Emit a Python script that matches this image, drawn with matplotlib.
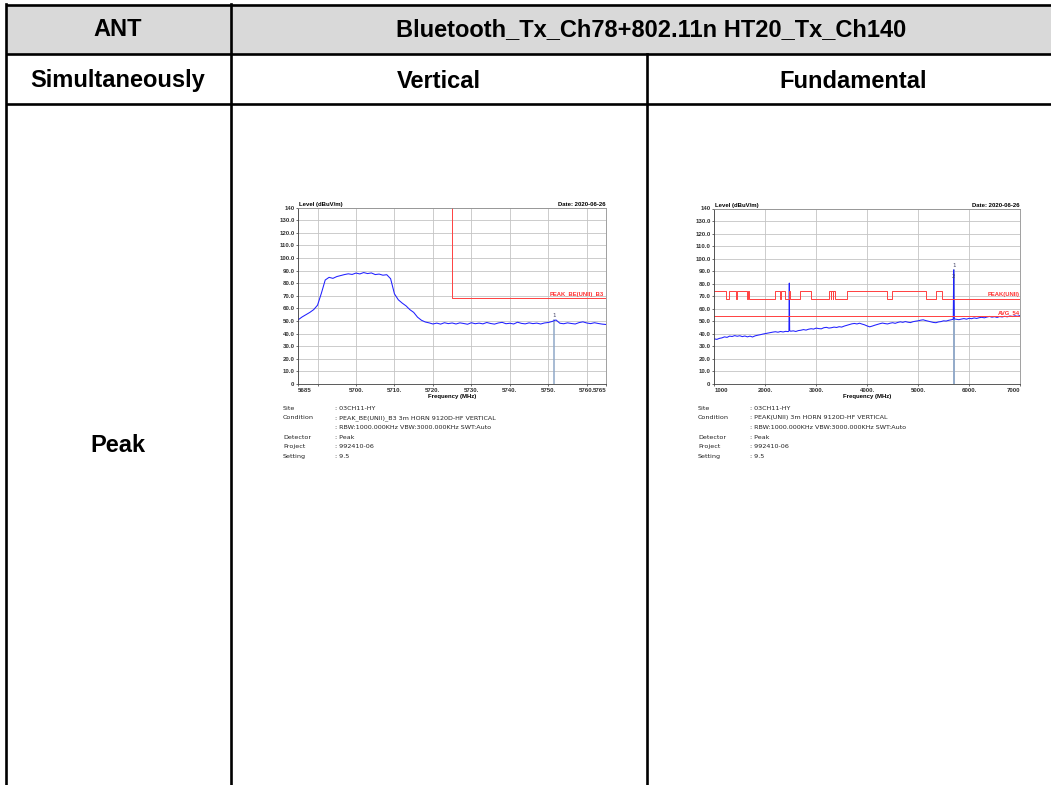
import matplotlib.pyplot as plt
from matplotlib.patches import Rectangle

# table texts
ant_title = 'ANT'
mode_title = 'Bluetooth_Tx_Ch78+802.11n HT20_Tx_Ch140'
row_titles = ['Simultaneously', 'Vertical', 'Fundamental']
detector_title = 'Peak'

# left plot: band edge, vertical
left_freq = [5685, 5686, 5687, 5688, 5689, 5690, 5691, 5692, 5693, 5694,
             5695, 5696, 5697, 5698, 5699, 5700, 5701, 5702, 5703, 5704,
             5705, 5706, 5707, 5708, 5709, 5710, 5711, 5712, 5713, 5714,
             5715, 5716, 5717, 5718, 5719, 5720, 5721, 5722, 5723, 5724,
             5725, 5726, 5727, 5728, 5729, 5730, 5731, 5732, 5733, 5734,
             5735, 5736, 5737, 5738, 5739, 5740, 5741, 5742, 5743, 5744,
             5745, 5746, 5747, 5748, 5749, 5750, 5751, 5752, 5753, 5754,
             5755, 5756, 5757, 5758, 5759, 5760, 5761, 5762, 5763, 5764, 5765]
left_level = [51.0, 53.2, 55.0, 56.8, 59.0, 62.5, 72.0, 82.5, 84.6, 83.8,
              85.2, 86.0, 86.8, 87.4, 86.9, 88.0, 87.3, 88.4, 87.6, 88.1,
              86.8, 87.2, 86.3, 86.7, 83.5, 71.5, 66.8, 64.2, 62.0, 59.0,
              56.8, 53.0, 50.6, 49.2, 48.5, 47.6, 48.3, 47.5, 48.6, 47.9,
              48.4, 47.6, 48.5, 48.0, 47.4, 48.6, 47.8, 48.3, 47.7, 48.8,
              48.0, 47.5, 48.4, 48.9, 47.8, 48.2, 47.6, 49.0, 48.1, 47.7,
              48.5, 47.9, 48.3, 47.6, 48.4, 48.8, 49.6, 50.8, 48.2, 47.8,
              48.5, 48.0, 47.6, 48.7, 49.3, 48.4, 47.9, 48.6, 48.0, 47.5, 47.2]
left_limit_freq = [5725, 5725, 5765]
left_limit_level = [140, 68.2, 68.2]
left_marker_freq = [5751.6]
left_marker_level = [50.8]

# right plot: fundamental sweep
right_freq = [1000, 1050, 1100, 1150, 1200, 1250, 1300, 1350, 1400, 1450,
              1500, 1550, 1600, 1650, 1700, 1750, 1800, 1850, 1900, 1950,
              2000, 2050, 2100, 2150, 2200, 2250, 2300, 2350, 2400, 2450,
              2465, 2472, 2479, 2500, 2550, 2600, 2650, 2700, 2750, 2800,
              2850, 2900, 2950, 3000, 3050, 3100, 3150, 3200, 3250, 3300,
              3350, 3400, 3450, 3500, 3550, 3600, 3650, 3700, 3750, 3800,
              3850, 3900, 3950, 4000, 4050, 4100, 4150, 4200, 4250, 4300,
              4350, 4400, 4450, 4500, 4550, 4600, 4650, 4700, 4750, 4800,
              4850, 4900, 4950, 5000, 5050, 5100, 5150, 5200, 5250, 5300,
              5350, 5400, 5450, 5500, 5550, 5600, 5650, 5690, 5695, 5698,
              5702, 5710, 5750, 5800, 5850, 5900, 5950, 6000, 6050, 6100,
              6150, 6200, 6250, 6300, 6350, 6400, 6450, 6500, 6550, 6600,
              6650, 6700, 6750, 6800, 6850, 6900, 6950, 7000]
right_level = [36.0, 35.6, 36.4, 36.8, 37.6, 37.2, 38.2, 37.9, 38.6, 38.1,
               38.5, 37.8, 38.3, 37.6, 38.2, 37.5, 38.4, 38.9, 39.3, 39.8,
               40.2, 40.6, 41.0, 41.4, 41.7, 41.3, 41.9, 41.5, 42.0, 41.8,
               42.3, 80.5, 42.6, 42.1, 42.4, 41.9, 42.6, 42.9, 43.4, 43.0,
               43.7, 44.1, 43.8, 44.6, 44.2, 44.0, 44.9, 45.2, 44.6, 44.9,
               45.4, 45.1, 45.7, 45.4, 46.2, 46.8, 47.4, 48.0, 48.3, 47.9,
               48.5, 47.8, 47.2, 46.3, 45.6, 46.2, 46.9, 47.5, 48.1, 48.6,
               48.2, 47.9, 48.5, 48.9, 48.4, 49.1, 49.6, 49.2, 49.8, 49.3,
               49.0, 49.7, 50.1, 50.4, 50.9, 51.2, 50.6, 50.1, 49.6, 49.1,
               48.9, 49.5, 49.8, 50.4, 50.2, 50.8, 51.2, 51.6, 74.0, 91.0,
               73.0, 51.9, 51.6, 51.3, 51.8, 52.2, 51.7, 52.4, 52.1, 52.7,
               52.3, 52.9, 53.2, 52.8, 53.4, 53.9, 53.3, 53.7, 53.1, 53.8,
               53.5, 54.0, 53.6, 54.2, 53.8, 54.4, 54.0, 54.6]
peak_edges = [1000, 1230, 1295, 1430, 1442, 1640, 1652, 1690, 2197, 2290,
              2302, 2390, 2475, 2487, 2688, 2904, 3257, 3290, 3300, 3325,
              3335, 3362, 3605, 4384, 4494, 5150, 5346, 5463, 7000]
peak_levels = [74, 68.2, 74, 68.2, 74, 68.2, 74, 68.2, 74, 68.2,
               74, 68.2, 74, 68.2, 74, 68.2, 74, 68.2, 74, 68.2,
               74, 68.2, 74, 68.2, 74, 68.2, 74, 68.2, 68.2]
avg_limit = 54
right_marker_freq = [5698, 5698]
right_marker_level = [91.0, 86.0]

# text under the plots
info_keys = ['Site', 'Condition', '', 'Detector', 'Project', 'Setting']
left_info = [': 03CH11-HY', ': PEAK_BE(UNII)_B3 3m HORN 9120D-HF VERTICAL',
             ': RBW:1000.000KHz VBW:3000.000KHz SWT:Auto', ': Peak',
             ': 992410-06', ': 9.5']
right_info = [': 03CH11-HY', ': PEAK(UNII) 3m HORN 9120D-HF VERTICAL',
              ': RBW:1000.000KHz VBW:3000.000KHz SWT:Auto', ': Peak',
              ': 992410-06', ': 9.5']

y_ticks = [0, 10, 20, 30, 40, 50, 60, 70, 80, 90, 100, 110, 120, 130, 140]
y_labels = ['0', '10.0', '20.0', '30.0', '40.0', '50.0', '60.0', '70.0',
            '80.0', '90.0', '100.0', '110.0', '120.0', '130.0', '140']
left_xticks = [5685, 5690, 5700, 5710, 5720, 5730, 5740, 5750, 5760, 5765]
left_xlabels = ['5685', '', '5700.', '5710.', '5720.', '5730.', '5740.',
                '5750.', '5760.', '5765']
right_xticks = [1000, 2000, 3000, 4000, 5000, 6000, 7000]
right_xlabels = ['1000', '2000.', '3000.', '4000.', '5000.', '6000.', '7000']

W, H = 1051, 785
fig = plt.figure(figsize=(W / 100, H / 100), dpi=100)

# table frame, drawn in pixel coordinates
tab = fig.add_axes([0, 0, 1, 1])
tab.set_xlim(0, W)
tab.set_ylim(H, 0)
tab.axis('off')
tab.add_patch(Rectangle((6, 5), 1060, 49, facecolor='#d9d9d9', edgecolor='none'))
lw = 1.9
for y in [5, 54, 104]:
    tab.plot([6, 1060], [y, y], color='black', lw=lw, solid_capstyle='butt')
tab.plot([6, 6], [4, 790], color='black', lw=lw)
tab.plot([231, 231], [4, 790], color='black', lw=lw)
tab.plot([647, 647], [54, 790], color='black', lw=lw)

hfont = dict(family='Liberation Sans', weight='bold', fontsize=17,
             ha='center', va='center', color='black')
tab.text(118, 30, ant_title, **hfont)
tab.text(651, 30, mode_title, **hfont)
tab.text(118, 81, row_titles[0], **hfont)
tab.text(439, 81, row_titles[1], **hfont)
tab.text(853, 81, row_titles[2], **hfont)
tab.text(118, 446, detector_title, **hfont)

# info text below each plot
for x0, vals in [(283, left_info), (698, right_info)]:
    for i, (k, v) in enumerate(zip(info_keys, vals)):
        y = 408 + i * 9.7
        tab.text(x0, y, k, fontsize=4.6, family='DejaVu Sans', va='center', color='#222222')
        tab.text(x0 + 52, y, v, fontsize=4.6, family='DejaVu Sans', va='center', color='#222222')


def setup_chart(px_left, px_right, px_top, px_bottom, xlim, xticks, xlabels):
    ax = fig.add_axes([px_left / W, 1 - px_bottom / H,
                       (px_right - px_left) / W, (px_bottom - px_top) / H])
    ax.set_xlim(*xlim)
    ax.set_ylim(0, 140)
    ax.set_yticks(y_ticks)
    ax.set_yticklabels(y_labels)
    ax.set_xticks(xticks)
    ax.set_xticklabels(xlabels)
    labels = ax.get_xticklabels()
    labels[0].set_ha('left')
    labels[-1].set_ha('right')
    ax.tick_params(labelsize=4.4, length=1.5, width=0.5, pad=1.2,
                   colors='#333333')
    for lbl in ax.get_xticklabels() + ax.get_yticklabels():
        lbl.set_fontweight('bold')
        lbl.set_family('Liberation Sans')
    ax.grid(True, color='#c4c4c4', lw=0.6)
    for s in ax.spines.values():
        s.set_color('#909090')
        s.set_linewidth(0.6)
    ax.spines['left'].set_color('#404040')
    ax.spines['bottom'].set_color('#404040')
    ax.set_axisbelow(True)
    small = dict(fontsize=4.3, fontweight='bold', family='Liberation Sans',
                 transform=ax.transAxes, va='bottom')
    ax.text(0.003, 1.004, 'Level (dBuV/m)', ha='left', **small)
    ax.text(1.0, 1.004, 'Date: 2020-06-26', ha='right', **small)
    ax.set_xlabel('Frequency (MHz)', fontsize=4.3, fontweight='bold',
                  family='Liberation Sans', labelpad=1)
    return ax


# left plot
ax1 = setup_chart(298.3, 606, 207.5, 384, (5685, 5765), left_xticks, left_xlabels)
for f, lv in zip(left_marker_freq, left_marker_level):
    ax1.plot([f, f], [0, lv], color='#8fa8c8', lw=1.1)
    ax1.text(f, lv + 1.5, '1', fontsize=4, ha='center', va='bottom', color='#444466')
ax1.plot(left_freq, left_level, color='#2020ff', lw=0.75)
ax1.plot(left_limit_freq, left_limit_level, color='#ff4040', lw=0.7)
ax1.text(5764.5, 69.2, 'PEAK_BE(UNII)_B3', fontsize=4.2, fontweight='bold',
         family='Liberation Sans', color='#ff3030', ha='right', va='bottom')

# right plot
ax2 = setup_chart(714.3, 1020, 208.5, 384, (1000, 7000), right_xticks, right_xlabels)
for i, (f, lv) in enumerate(zip(right_marker_freq, right_marker_level)):
    ax2.plot([f, f], [0, lv], color='#8fa8c8', lw=1.1)
ax2.text(right_marker_freq[0], right_marker_level[0] + 1.5, '1', fontsize=4,
         ha='center', va='bottom', color='#444466')
ax2.text(right_marker_freq[1], right_marker_level[1], '2', fontsize=4,
         ha='center', va='center', color='#444466')
ax2.plot(right_freq, right_level, color='#2020ff', lw=0.75)
ax2.step(peak_edges, peak_levels, where='post', color='#ff4040', lw=0.7)
ax2.plot([1000, 7000], [avg_limit, avg_limit], color='#ff4040', lw=0.7)
ax2.text(6990, 69.2, 'PEAK(UNII)', fontsize=4.2, fontweight='bold',
         family='Liberation Sans', color='#ff3030', ha='right', va='bottom')
ax2.text(6990, 55, 'AVG_54', fontsize=4.2, fontweight='bold',
         family='Liberation Sans', color='#ff3030', ha='right', va='bottom')

fig.savefig('out.png', dpi=100)
